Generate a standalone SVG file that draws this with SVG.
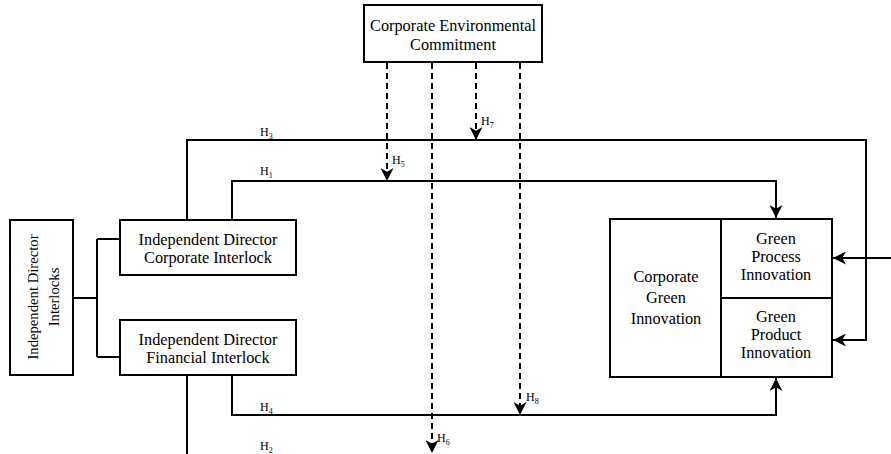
<svg xmlns="http://www.w3.org/2000/svg" width="891" height="454" viewBox="0 0 891 454">
<defs>
<marker id="ah" viewBox="0 0 12 12" refX="12" refY="6" markerWidth="13" markerHeight="13" markerUnits="userSpaceOnUse" orient="auto">
<path d="M0,0 L12,6 L0,12 L3.5,6 z" fill="#000"/>
</marker>
<style>
.box{fill:#fff;stroke:#000;stroke-width:2}
.t{font-family:"Liberation Serif","Times New Roman",serif;font-size:16.3px;fill:#000;text-anchor:middle}
.v{font-size:14.7px}
.h{font-family:"Liberation Serif","Times New Roman",serif;font-size:12px;fill:#000}
.s{font-size:8px}
.ln{fill:none;stroke:#000;stroke-width:2}
.d{fill:none;stroke:#000;stroke-width:2;stroke-dasharray:6,4}
</style>
</defs>
<rect width="891" height="454" fill="#fff"/>
<g id="connectors">
<path class="ln" d="M73,298 H97 M97,239 V357 M97,239 H120 M97,357 H120"/>
<path class="ln" d="M187,219 V140 H866 V340 H833" marker-end="url(#ah)"/>
<path class="ln" d="M891,258 H833" marker-end="url(#ah)"/>
<path class="ln" d="M232,219 V181 H776 V218" marker-end="url(#ah)"/>
<path class="ln" d="M232,376 V415 H776 V378" marker-end="url(#ah)"/>
<path class="ln" d="M187,376 V454"/>
<path class="d" d="M387,63 V181" marker-end="url(#ah)"/>
<path class="d" d="M476,63 V140" marker-end="url(#ah)"/>
<path class="d" d="M520,63 V415" marker-end="url(#ah)"/>
<path class="d" d="M432,63 V453" marker-end="url(#ah)"/>
<text class="h" x="260" y="136">H<tspan class="s" dy="3">3</tspan></text>
<text class="h" x="260" y="175">H<tspan class="s" dy="3">1</tspan></text>
<text class="h" x="392" y="164">H<tspan class="s" dy="3">5</tspan></text>
<text class="h" x="481" y="125">H<tspan class="s" dy="3">7</tspan></text>
<text class="h" x="260" y="411">H<tspan class="s" dy="3">4</tspan></text>
<text class="h" x="526" y="401">H<tspan class="s" dy="3">8</tspan></text>
<text class="h" x="437" y="442">H<tspan class="s" dy="3">6</tspan></text>
<text class="h" x="260" y="450">H<tspan class="s" dy="3">2</tspan></text>
</g>
<g id="cec">
<rect class="box" x="364" y="5" width="178" height="57"/>
<text class="t" x="453" y="31">Corporate Environmental</text>
<text class="t" x="453" y="50">Commitment</text>
</g>
<g id="idi">
<rect class="box" x="10" y="220" width="63" height="155"/>
<text class="t v" transform="translate(41,297) rotate(-90)" x="0" y="-3">Independent Director</text>
<text class="t v" transform="translate(41,297) rotate(-90)" x="0" y="18">Interlocks</text>
</g>
<g id="idci">
<rect class="box" x="120" y="220" width="176" height="55"/>
<text class="t" x="208" y="245">Independent Director</text>
<text class="t" x="208" y="263">Corporate Interlock</text>
</g>
<g id="idfi">
<rect class="box" x="120" y="320" width="176" height="55"/>
<text class="t" x="208" y="345">Independent Director</text>
<text class="t" x="208" y="363">Financial Interlock</text>
</g>
<g id="cgi">
<rect class="box" x="610" y="219" width="222" height="158"/>
<path class="ln" d="M721,219 V377 M721,298 H832"/>
<text class="t" x="666" y="282">Corporate</text>
<text class="t" x="666" y="303">Green</text>
<text class="t" x="666" y="324">Innovation</text>
</g>
<g id="gpi">
<text class="t" x="776" y="244">Green</text>
<text class="t" x="776" y="262">Process</text>
<text class="t" x="776" y="280">Innovation</text>
</g>
<g id="gpdi">
<text class="t" x="776" y="322">Green</text>
<text class="t" x="776" y="340">Product</text>
<text class="t" x="776" y="358">Innovation</text>
</g>
</svg>
